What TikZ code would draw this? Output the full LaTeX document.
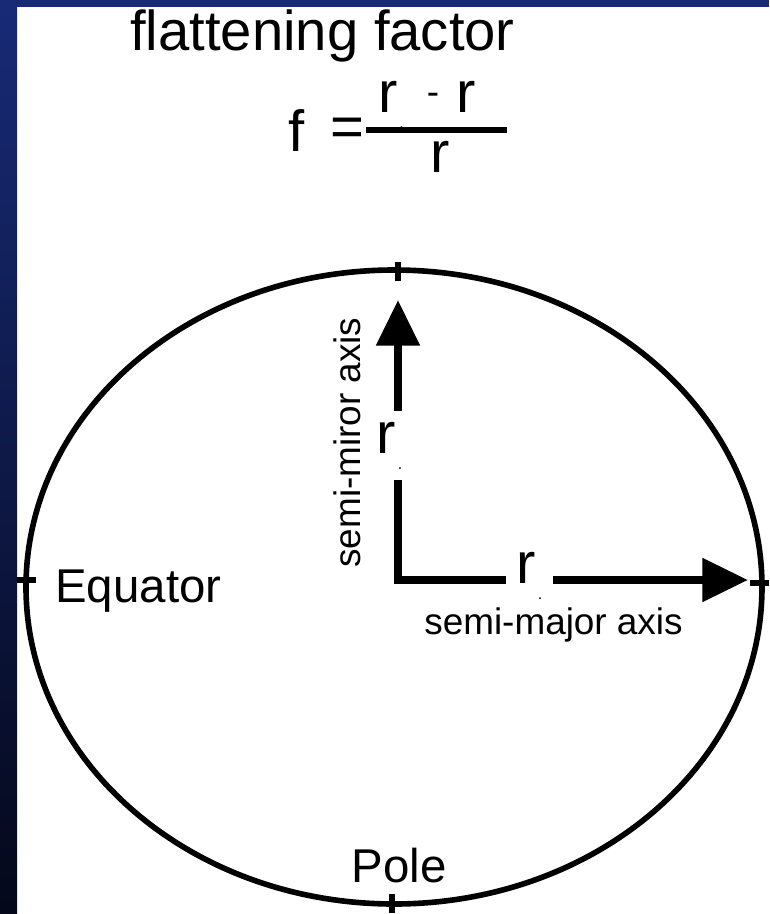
\documentclass[tikz,border=0pt]{standalone}
\usepackage{fontspec}
\setmainfont{Liberation Sans}
\usetikzlibrary{arrows.meta}
\definecolor{frameblue}{RGB}{24,42,118}
\definecolor{framedark}{RGB}{4,8,26}
\newcommand{\rsub}{r\kern1pt\raisebox{-0.28em}{\fontsize{9}{9}\selectfont .}}

\begin{document}
\begin{tikzpicture}[x=0.02cm,y=-0.02cm,
    lbl/.style={inner sep=0pt, font=\fontsize{21}{21}\selectfont},
    biglbl/.style={inner sep=0pt, font=\fontsize{27}{27}\selectfont},
    rlbl/.style={inner sep=6pt, font=\fontsize{33}{33}\selectfont},
    axisline/.style={line width=4.5pt, line join=miter},
    bigtip/.style={-{Triangle[length=26pt,width=24pt]}},
    tick/.style={line width=3pt}]
\useasboundingbox (0,0) rectangle (769,914);
% frame
\fill[white] (0,0) rectangle (769,914);
\fill[frameblue] (0,0) rectangle (769,7);
\shade[top color=frameblue, middle color=framedark!85!frameblue, bottom color=framedark] (0,0) rectangle (17,914);

% title and formula
\node[biglbl, anchor=base west, font=\fontsize{32}{32}\selectfont] (title) at (130,50) {flattening factor};
\node[rlbl, inner sep=0pt, anchor=base west] (f) at (288,151) {f};
\node[rlbl, inner sep=0pt, anchor=base west] (eq) at (330,146) {=};
\draw[line width=3.4pt] (366,130) -- (507,130);
\node[rlbl, inner sep=0pt, anchor=base west] (numa) at (378,112) {\rsub};
\node[lbl, anchor=base] (minus) at (433,104) {-};
\node[rlbl, inner sep=0pt, anchor=base west] (numb) at (456,112) {r};
\node[rlbl, inner sep=0pt, anchor=base west] (den) at (430,172) {r};

% ellipse with ticks
\coordinate (O) at (398,580);
\draw[line width=3.2pt] (394,587) ellipse [x radius=368, y radius=317];
\draw[tick] (17,580) -- (36,580);
\draw[tick] (750,583) -- (769,583);
\draw[tick] (398,262) -- (398,281);
\draw[tick] (392,894) -- (392,913);

% axes
\node[rlbl, anchor=base west] (rb) at (366,453) {\rsub};
\node[rlbl, anchor=base west] (ra) at (506,583) {\rsub};
\coordinate (top) at (398,300);
\coordinate (right) at (748,580);
\draw[axisline] (O |- rb.south) -- (O) -- (O -| ra.west);
\draw[axisline, bigtip] (O |- rb.north) -- (top);
\draw[axisline, bigtip] (O -| ra.east) -- (right);

\node[lbl, anchor=base west] (major) at (424,634) {semi-major axis};
\node[lbl, anchor=base west, rotate=90] (minor) at (360,568) {semi-miror axis};
\node[biglbl, anchor=base west] (equator) at (55,602) {Equator};
\node[biglbl, anchor=base] (pole) at (399,882) {Pole};
\end{tikzpicture}
\end{document}
